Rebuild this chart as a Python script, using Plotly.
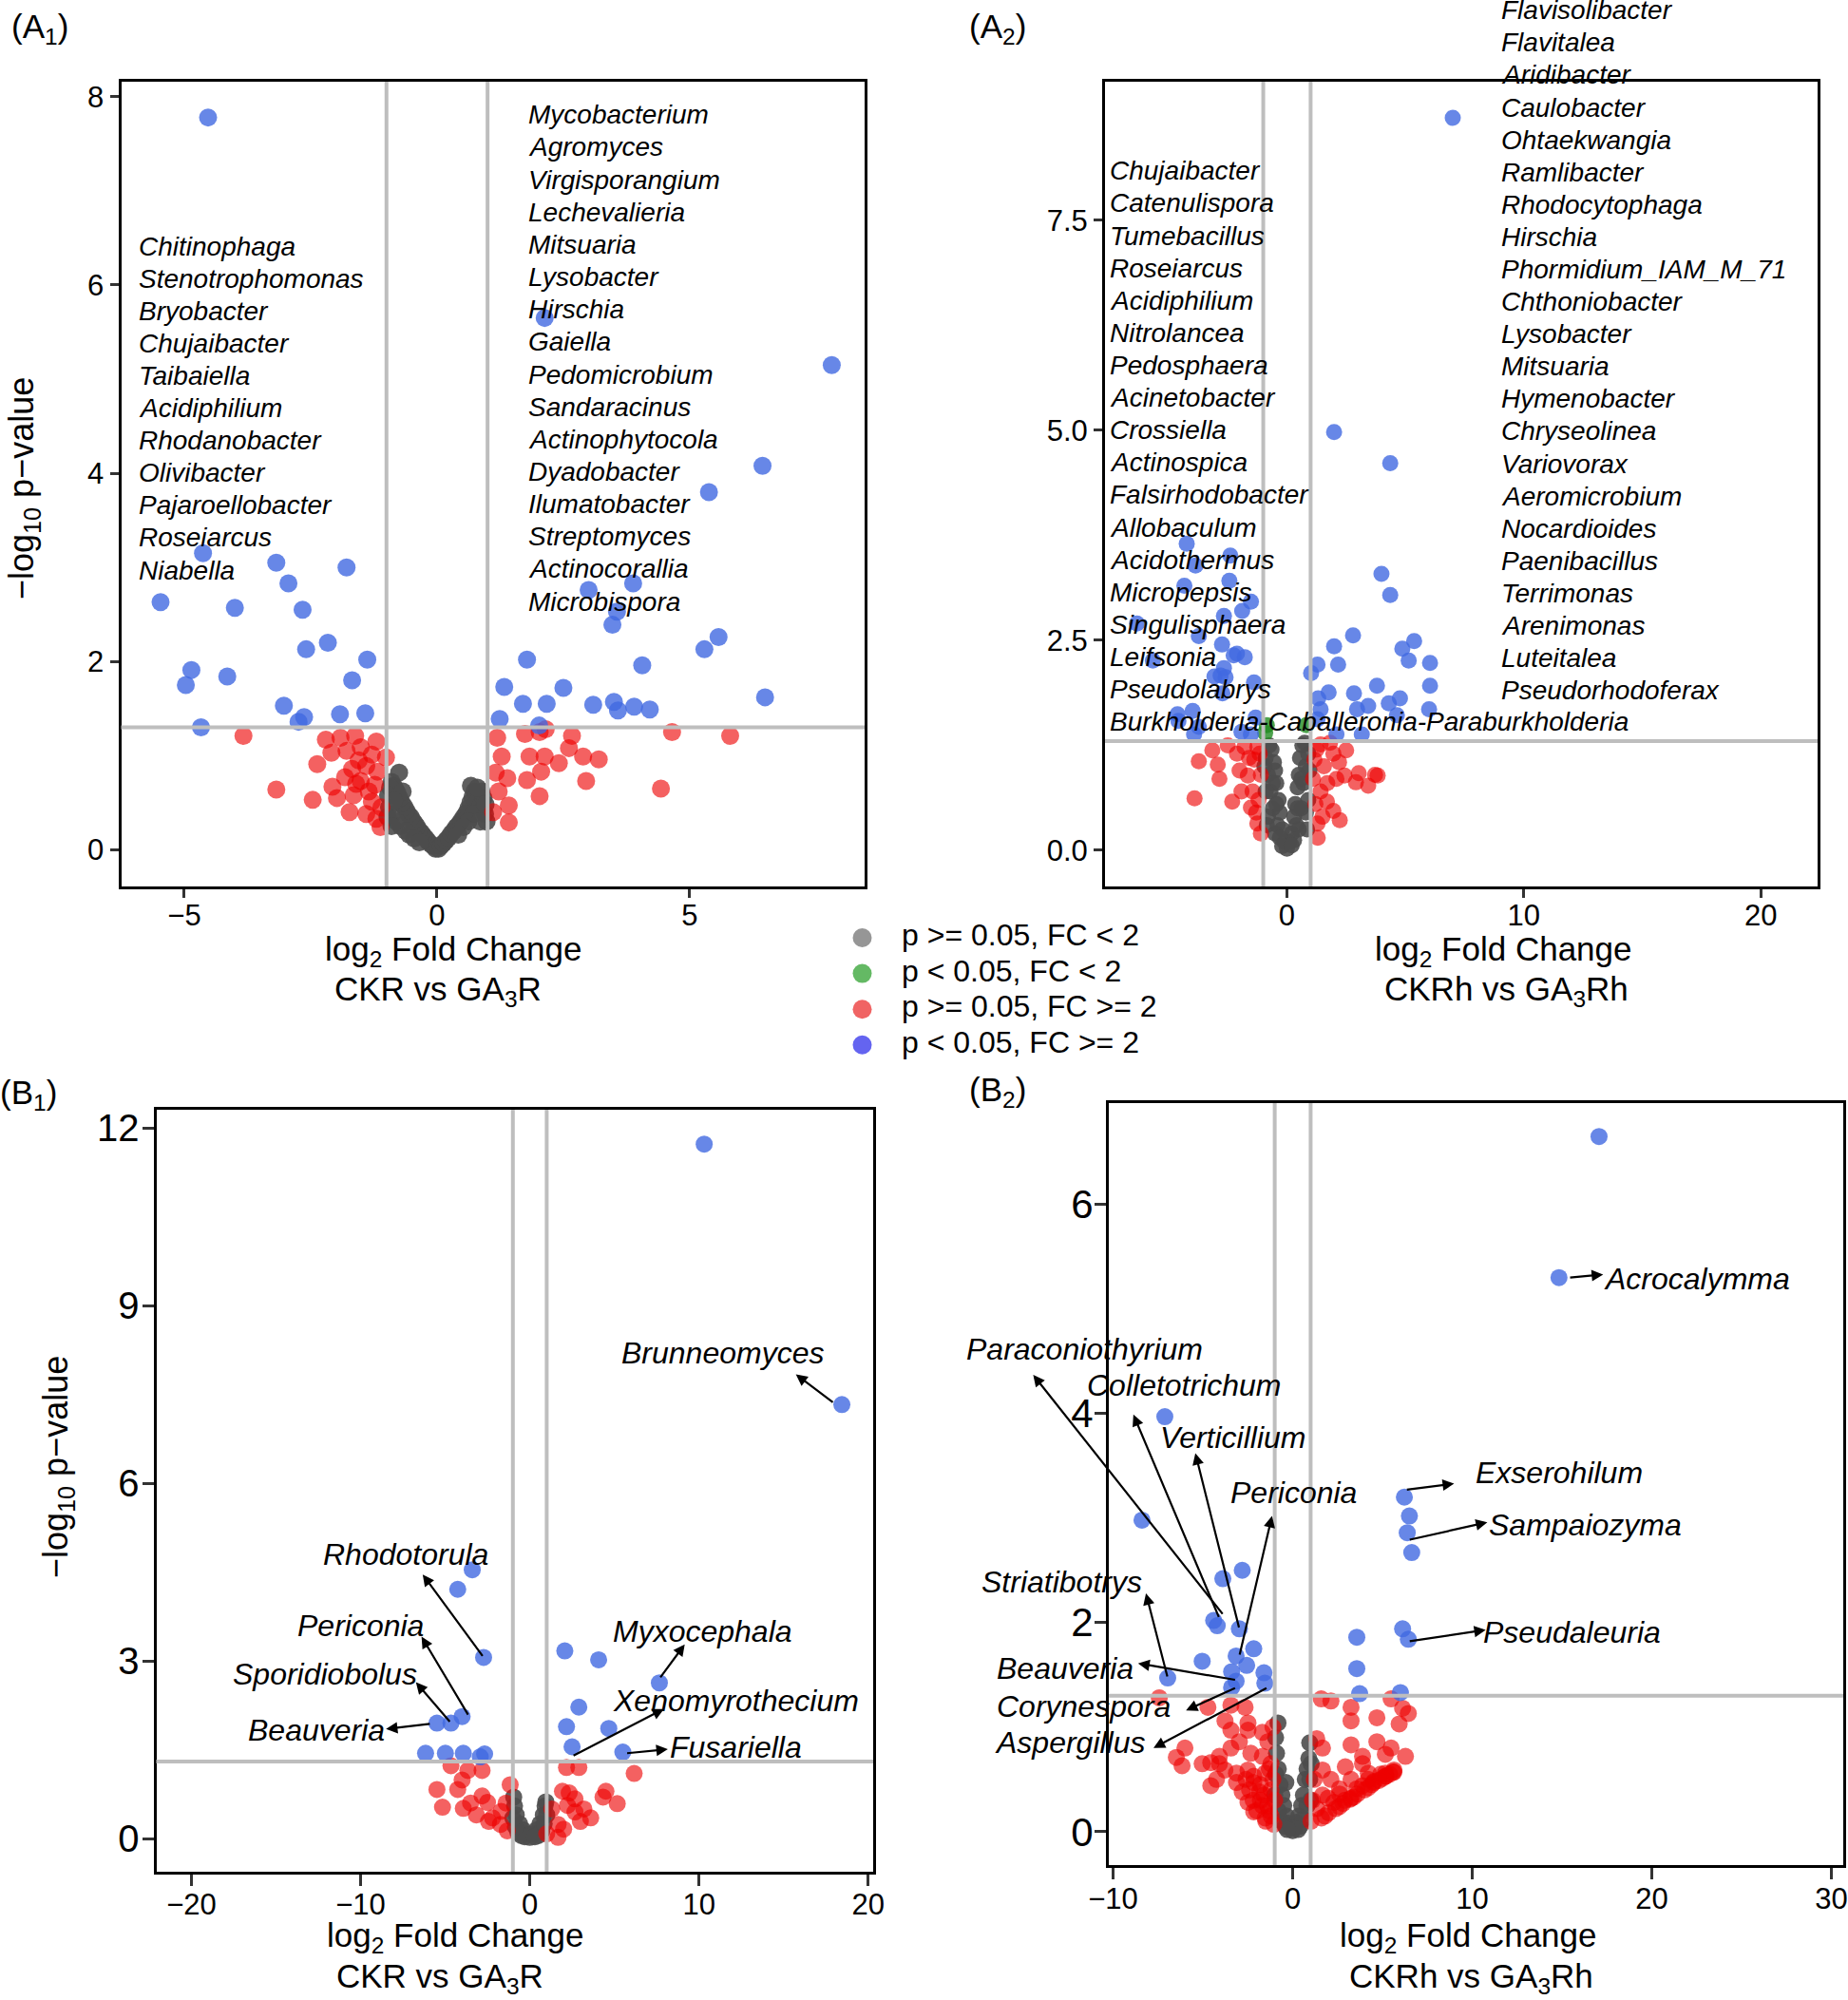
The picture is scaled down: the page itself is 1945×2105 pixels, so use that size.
import plotly.graph_objects as go

W, H = 1945, 2105
FONT = "Liberation Sans, Arial, Helvetica, sans-serif"

# ------------------------------------------------------------------ data
CATEGORIES = ["p >= 0.05, FC < 2", "p < 0.05, FC < 2", "p >= 0.05, FC >= 2", "p < 0.05, FC >= 2"]
LEGEND_COLORS = ["#969696", "#64B964", "#F06464", "#6464F0"]
POINT_COLORS = ["#4D4D4D", "#228B22", "#EE0000", "#4169E1"]
POINT_ALPHA = [0.9, 0.8, 0.62, 0.8]

# Panel A1  (CKR vs GA3R, bacteria)
a1_grey = [(-0.03,0.01),(-0.08,0.04),(-0.12,0.06),(-0.18,0.09),(-0.22,0.12),(-0.27,0.15),(-0.31,0.18),
           (-0.36,0.21),(-0.4,0.25),(-0.44,0.28),(-0.48,0.31),(-0.52,0.35),(-0.57,0.38),(-0.61,0.42),
           (-0.65,0.46),(-0.7,0.5),(-0.74,0.55),(-0.78,0.6),(-0.82,0.64),(-0.86,0.68),(-0.9,0.72),
           (-0.75,0.82),(-0.93,0.66),(-0.97,0.58),(-0.95,0.45),(-0.88,0.38),(-0.8,0.3),(-0.72,0.25),
           (-0.62,0.2),(-0.55,0.16),(-0.45,0.12),(-0.35,0.08),(-0.98,0.35),(-0.9,0.25),(-0.68,0.62),
           (-0.85,0.52),(0.03,0.01),(0.08,0.04),(0.13,0.07),(0.18,0.1),(0.23,0.13),(0.28,0.17),
           (0.33,0.2),(0.38,0.24),(0.43,0.27),(0.48,0.31),(0.53,0.35),(0.58,0.39),(0.62,0.44),
           (0.66,0.5),(0.7,0.56),(0.74,0.62),(0.67,0.68),(0.78,0.58),(0.82,0.52),(0.86,0.47),
           (0.9,0.42),(0.95,0.38),(0.92,0.55),(0.88,0.62),(0.8,0.66),(0.72,0.38),(0.62,0.3),
           (0.52,0.24),(0.42,0.16),(0.98,0.3),(0.85,0.3),(0.96,0.48)]
a1_red = [(-2.20,1.17),(-1.91,1.19),(-1.62,1.21),(-1.20,1.15),(-2.09,1.03),(-1.79,1.05),(-1.51,1.09),
          (-1.29,1.01),(-1.01,0.98),(-2.37,0.91),(-1.68,0.86),(-1.40,0.89),(-1.18,0.83),(-2.07,0.67),
          (-1.82,0.77),(-1.51,0.73),(-1.23,0.69),(-3.18,0.64),(-2.46,0.53),(-1.98,0.55),(-1.65,0.58),
          (-1.29,0.51),(-1.73,0.40),(-1.40,0.38),(-1.20,0.33),(-1.12,0.24),(-3.83,1.21),(-1.55,0.95),
          (-1.35,0.62),(-1.10,0.45),(-1.60,0.70),
          (1.19,1.19),(1.74,1.23),(2.67,1.21),(2.03,1.25),(2.61,1.08),(2.89,0.99),(3.20,0.96),
          (1.28,0.99),(1.83,0.99),(2.13,0.99),(2.41,0.92),(1.16,0.82),(1.39,0.76),(1.78,0.74),
          (2.06,0.83),(2.95,0.73),(4.43,0.65),(2.03,0.57),(1.22,0.62),(1.42,0.47),(1.42,0.29),
          (1.11,0.40),(4.65,1.25),(5.80,1.21),(2.15,1.28)]
a1_blue = [(-4.53,7.78),(2.13,5.65),(7.81,5.15),(6.44,4.08),(5.38,3.80),(3.88,2.83),(3.0,2.76),
           (3.56,2.53),(3.47,2.39),(-4.63,3.15),(-3.18,3.05),(-1.79,3.0),(-2.94,2.83),(-5.47,2.63),
           (-4.0,2.57),(-2.66,2.55),(-2.16,2.2),(-2.59,2.13),(-1.38,2.02),(-4.86,1.91),(-4.97,1.75),
           (-4.15,1.84),(-1.68,1.80),(-3.03,1.53),(-2.63,1.41),(-2.74,1.36),(-1.92,1.44),(-1.42,1.45),
           (-4.67,1.30),(1.78,2.02),(4.06,1.96),(5.29,2.13),(5.57,2.26),(6.49,1.62),(1.33,1.73),
           (2.5,1.72),(1.70,1.55),(2.17,1.55),(3.09,1.54),(3.50,1.57),(3.58,1.48),(3.90,1.52),
           (4.21,1.49),(1.24,1.39),(2.02,1.32)]
a1_left_names = ["Chitinophaga", "Stenotrophomonas", "Bryobacter", "Chujaibacter", "Taibaiella",
                 "Acidiphilium", "Rhodanobacter", "Olivibacter", "Pajaroellobacter", "Roseiarcus", "Niabella"]
a1_right_names = ["Mycobacterium", "Agromyces", "Virgisporangium", "Lechevalieria", "Mitsuaria",
                  "Lysobacter", "Hirschia", "Gaiella", "Pedomicrobium", "Sandaracinus", "Actinophytocola",
                  "Dyadobacter", "Ilumatobacter", "Streptomyces", "Actinocorallia", "Microbispora"]

# Panel A2  (CKRh vs GA3Rh, bacteria)
a2_grey = [(0,0.02),(-0.1,0.1),(0.1,0.1),(-0.2,0.25),(0.2,0.2),(-0.3,0.45),(0.3,0.4),(-0.35,0.6),
           (0.35,0.55),(-0.45,0.8),(0.45,0.75),(-0.5,0.95),(0.5,0.9),(-0.55,1.05),(0.55,1.1),
           (-0.65,1.2),(0.65,1.25),(-0.4,0.3),(0.4,0.3),(-0.6,0.5),(0.6,0.5),(-0.7,0.7),(0.7,0.8),
           (-0.8,0.9),(0.8,1.0),(-0.9,1.1),(0.9,1.15),(-0.75,1.25),(0.75,1.28),(-0.5,0.2),(0.5,0.25),
           (-0.8,0.4),(0.8,0.45),(-0.3,0.15),(0.3,0.12),(-0.2,0.05),(0.2,0.06),(-0.6,0.8),(0.6,0.85),
           (-0.9,0.7),(0.9,0.6),(-0.95,1.0),(0.95,0.95),(-0.45,0.55),(0.45,0.5),(-0.85,0.3),(0.85,0.25)]
a2_green = [(-0.85,1.49),(0.82,1.49),(-0.92,1.40)]
a2_red = [(-3.15,1.19),(-3.72,1.06),(-2.92,1.02),(-2.85,0.85),(-3.90,0.62),(-2.11,1.15),(-2.31,0.58),
          (-1.65,0.89),(-1.92,0.70),(-1.25,0.32),(-1.52,0.51),(-1.38,1.08),(-1.79,1.23),(-1.45,0.70),
          (-1.25,1.23),(-1.1,0.9),(-1.2,0.6),(-1.3,0.45),(-1.1,0.2),(-1.6,1.1),(-2.0,0.95),
          (-1.15,1.15),(-2.5,1.25),
          (1.42,1.26),(1.96,1.15),(2.50,1.19),(3.03,0.92),(3.83,0.89),(3.43,0.77),(2.09,0.85),
          (2.23,0.36),(1.69,0.58),(1.42,0.70),(1.96,0.47),(1.16,1.08),(1.56,1.0),(1.82,1.28),
          (1.29,0.32),(2.43,0.89),(2.91,0.81),(3.72,0.90),(1.1,0.85),(1.2,0.55),(1.3,0.15),(1.5,0.4),
          (1.7,0.8),(1.25,1.2),(2.2,1.05)]
a2_blue = [(7.0,8.72),(1.99,4.98),(4.36,4.61),(3.99,3.29),(4.36,3.04),(2.79,2.56),(1.99,2.43),(2.16,2.21),
           (1.29,2.21),(1.02,2.11),(5.37,2.49),(4.87,2.40),(5.14,2.26),(6.04,2.23),(6.04,1.96),(3.80,1.96),
           (2.83,1.87),(1.76,1.88),(1.32,1.81),(1.42,1.68),(3.43,1.72),(2.96,1.68),(4.30,1.75),(4.77,1.81),
           (4.64,1.61),(6.0,1.68),(3.16,1.38),(2.09,1.38),(1.29,1.56),
           (-4.23,3.65),(-2.39,3.51),(-3.86,3.39),(-4.33,3.15),(-2.43,3.21),(-1.52,2.96),(-1.89,2.85),
           (-2.66,2.79),(-6.33,2.70),(-3.72,2.55),(-2.74,2.45),(-2.11,2.34),(-1.78,2.30),(-2.25,2.32),
           (-5.66,2.26),(-2.66,2.17),(-3.06,2.07),(-2.59,2.06),(-1.39,2.0),(-2.72,1.87),(-4.62,1.62),
           (-1.32,1.58),(-3.92,1.38),(-3.72,1.47),(-1.92,1.41),(-1.52,1.38),(-3.98,1.66),(-2.8,2.08),
           (-4.58,1.54)]
a2_left_names = ["Chujaibacter", "Catenulispora", "Tumebacillus", "Roseiarcus", "Acidiphilium", "Nitrolancea",
                 "Pedosphaera", "Acinetobacter", "Crossiella", "Actinospica", "Falsirhodobacter", "Allobaculum",
                 "Acidothermus", "Micropepsis", "Singulisphaera", "Leifsonia", "Pseudolabrys",
                 "Burkholderia-Caballeronia-Paraburkholderia"]
a2_right_names = ["Flavisolibacter", "Flavitalea", "Aridibacter", "Caulobacter", "Ohtaekwangia", "Ramlibacter",
                  "Rhodocytophaga", "Hirschia", "Phormidium_IAM_M_71", "Chthoniobacter", "Lysobacter",
                  "Mitsuaria", "Hymenobacter", "Chryseolinea", "Variovorax", "Aeromicrobium", "Nocardioides",
                  "Paenibacillus", "Terrimonas", "Arenimonas", "Luteitalea", "Pseudorhodoferax"]

# Panel B1  (CKR vs GA3R, fungi)
b1_grey = [(0,0.02),(-0.2,0.08),(0.2,0.08),(-0.4,0.15),(0.4,0.15),(-0.6,0.25),(0.6,0.25),(-0.8,0.4),
           (0.8,0.4),(-0.9,0.55),(0.9,0.55),(-0.95,0.7),(0.95,0.62),(-0.5,0.05),(0.5,0.05),(-0.7,0.1),
           (0.7,0.12),(-0.3,0.03),(0.3,0.03),(-0.85,0.2),(0.85,0.25),(-1.0,0.35),(1.0,0.4)]
b1_red = [(-4.66,1.23),(-3.66,1.15),(-2.82,1.15),(2.17,1.20),(2.90,1.20),(6.17,1.10),(-4.0,0.99),(-1.16,0.91),
          (-5.49,0.83),(-4.26,0.83),(-2.82,0.72),(-2.5,0.61),(-5.16,0.53),(-3.93,0.51),(-3.16,0.40),
          (-2.44,0.29),(-1.73,0.24),(-1.33,0.13),(-1.69,0.46),(1.93,0.80),(2.67,0.67),(2.23,0.56),
          (4.5,0.80),(4.33,0.70),(5.17,0.59),(3.60,0.35),(2.99,0.29),(1.67,0.24),(2.0,0.16),(1.0,0.08),
          (1.67,0.02),(2.67,0.45),(2.33,0.77),(-2.2,0.35),(-3.5,0.6),(-1.4,0.6),(1.3,0.5),(3.2,0.5)]
b1_blue = [(10.31,11.73),(18.45,7.33),(-3.40,4.54),(-4.26,4.21),(-2.73,3.06),(2.07,3.17),(4.07,3.02),
           (7.66,2.63),(2.90,2.22),(-4.0,2.06),(-4.66,1.95),(-5.49,1.95),(2.17,1.89),(4.67,1.86),
           (2.50,1.55),(5.50,1.46),(-6.16,1.44),(-4.99,1.44),(-3.93,1.44),(-2.67,1.43),(-2.93,1.38)]
b1_labels = ["Brunneomyces", "Rhodotorula", "Periconia", "Sporidiobolus", "Beauveria",
             "Myxocephala", "Xenomyrothecium", "Fusariella"]

# Panel B2  (CKRh vs GA3Rh, fungi)
b2_grey = [(0,0.01),(-0.1,0.04),(0.1,0.04),(-0.2,0.08),(0.2,0.09),(-0.35,0.15),(0.35,0.15),(-0.5,0.25),
           (0.5,0.25),(-0.6,0.35),(0.6,0.35),(-0.7,0.45),(0.7,0.5),(-0.8,0.6),(0.8,0.6),(-0.9,0.75),
           (0.9,0.7),(-0.95,0.9),(0.95,0.85),(-0.82,1.04),(0.4,0.05),(-0.4,0.05),(-0.6,0.1),(0.6,0.12),
           (-0.8,0.2),(0.8,0.25),(-1.0,0.35),(1.0,0.3),(0.3,0.02),(-0.3,0.02),(0.95,0.5),(-0.95,0.55),
           (1.03,0.65),(-0.38,0.47)]
b2_red = [(-4.72,1.19),(-3.44,1.21),(-2.65,1.19),(-3.77,1.06),(-2.49,1.04),(-3.44,0.97),(-2.49,0.97),
          (-1.69,0.95),(-1.38,0.86),(-6.0,0.80),(-6.48,0.71),(-6.16,0.63),(-5.04,0.65),(-4.08,0.72),
          (-2.97,0.86),(-3.44,0.80),(-2.33,0.75),(-1.69,0.72),(-1.21,0.65),(-3.77,0.59),(-2.49,0.59),
          (-1.53,0.56),(-4.24,0.50),(-3.13,0.47),(-2.17,0.47),(-4.56,0.44),(-2.81,0.38),(-1.85,0.38),
          (-2.49,0.28),(-1.69,0.25),(-2.17,0.19),(-1.53,0.13),(-1.05,0.07),(-3.13,0.56),(-2.17,0.53),
          (-4.08,0.65),(-4.56,0.66),(-7.43,1.28),(-1.2,0.4),(-1.3,0.2),(-1.8,0.3),(-1.1,1.0),
          (-1.2,0.15),(-1.4,0.25),(-1.6,0.35),(-1.8,0.45),(-2.0,0.2),(-2.2,0.3),(-1.0,0.3),(-1.1,0.5),
          (-1.3,0.6),(-2.4,0.4),(-2.6,0.5),(-1.5,0.1),
          (1.59,1.27),(2.13,1.25),(3.25,1.19),(4.69,1.09),(5.48,1.27),(6.12,1.18),(6.44,1.13),(3.25,1.06),
          (1.34,0.89),(1.66,0.80),(3.25,0.83),(3.89,0.72),(4.69,0.86),(5.48,0.80),(6.28,0.72),(5.16,0.74),
          (2.93,0.62),(3.89,0.65),(1.66,0.59),(2.13,0.50),(3.25,0.50),(4.21,0.56),(5.16,0.56),(5.64,0.59),
          (2.61,0.41),(3.57,0.41),(1.66,0.35),(2.30,0.28),(1.34,0.22),(1.02,0.10),(3.25,0.32),(4.52,0.47),
          (5.16,0.53),(1.97,0.32),(2.61,0.36),(3.89,0.44),(4.52,0.48),(5.64,0.57),(5.93,1.03),(1.2,0.5),
          (1.1,0.3),(2.9,0.3),(4.2,0.5),(4.9,0.55),
          (1.6,0.13),(2.0,0.18),(2.4,0.22),(2.8,0.27),(3.2,0.31),(3.6,0.36),(4.0,0.40),(4.4,0.45),
          (4.8,0.49),(5.2,0.53),(5.6,0.57),(1.8,0.15),(2.6,0.24),(3.4,0.33),(4.2,0.42),(5.0,0.51),(5.4,0.55)]
b2_blue = [(17.06,6.65),(14.83,5.30),(-7.12,3.97),(-8.39,2.98),(6.22,3.20),(6.5,3.02),(6.38,2.86),(6.63,2.67),
           (-2.81,2.50),(-3.89,2.42),(-4.40,2.02),(-4.2,1.97),(-2.97,1.94),(6.12,1.94),(6.44,1.84),(3.57,1.86),
           (3.57,1.56),(-2.17,1.75),(-3.15,1.68),(-5.04,1.63),(-2.56,1.59),(-3.4,1.53),(-1.6,1.52),
           (-6.96,1.47),(-3.15,1.44),(-1.55,1.42),(-3.4,1.38),(3.73,1.32),(6.0,1.33)]
b2_labels = ["Acrocalymma", "Paraconiothyrium", "Colletotrichum", "Verticillium", "Periconia", "Exserohilum",
             "Sampaiozyma", "Pseudaleuria", "Striatibotrys", "Beauveria", "Corynespora", "Aspergillus"]

# tick labels
A1_XTICKS, A1_YTICKS = [-5, 0, 5], [0, 2, 4, 6, 8]
A2_XTICKS, A2_YTICKS = [0, 10, 20], [0, 2.5, 5.0, 7.5]
A2_YTICKTEXT = ["0.0", "2.5", "5.0", "7.5"]
B1_XTICKS, B1_YTICKS = [-20, -10, 0, 10, 20], [0, 3, 6, 9, 12]
B2_XTICKS, B2_YTICKS = [-10, 0, 10, 20, 30], [0, 2, 4, 6]

FC_CUT, P_CUT_LOG = 1.0, 1.30103

# ------------------------------------------------------------------ layout helpers
def px(x):
    return x / W

def py(y):
    return 1 - y / H

# label placements (panel data units): text centre, arrow head, arrow tail
B1_LABEL_POS = [(11.41, 8.20, 15.73, 7.84, 18.0, 7.35), (-7.36, 4.80, -6.33, 4.46, -2.73, 3.06),
                (-10.03, 3.60, -6.40, 3.41, -3.60, 2.07), (-12.1, 2.78, -6.73, 2.64, -4.66, 1.95),
                (-12.6, 1.83, -8.50, 1.85, -5.83, 1.94), (10.2, 3.50, 9.16, 3.28, 7.66, 2.70),
                (12.16, 2.33, 7.93, 2.19, 2.50, 1.39), (12.2, 1.55, 8.16, 1.51, 5.67, 1.44)]
B2_LABEL_POS = [(22.49, 5.29, 17.29, 5.33, 15.37, 5.30), (-11.58, 4.62, -14.45, 4.37, -3.84, 2.07),
                (-6.03, 4.27, -8.87, 3.99, -4.08, 2.04), (-3.29, 3.77, -5.42, 3.62, -2.97, 1.94),
                (0.06, 3.24, -1.15, 3.02, -2.97, 1.68), (14.83, 3.43, 8.99, 3.33, 6.28, 3.27),
                (16.32, 2.93, 10.84, 2.96, 6.44, 2.79), (15.53, 1.91, 10.75, 1.93, 6.44, 1.82),
                (-12.85, 2.39, -8.17, 2.28, -6.96, 1.47), (-12.7, 1.56, -8.61, 1.61, -3.13, 1.45),
                (-11.63, 1.20, -5.94, 1.16, -3.13, 1.38), (-12.38, 0.85, -7.75, 0.80, -1.38, 1.38)]

panels = [
    dict(ax="", data=[a1_grey, None, a1_red, a1_blue], size=19,
         dom_x=(127.5, 910), dom_y=(86, 933), xr=[-6.25, 8.46], yr=[-0.39, 8.16],
         xt=A1_XTICKS, yt=A1_YTICKS, ytt=[str(v) for v in A1_YTICKS], yfont=31, xfont=31,
         tlen=9, xstand=-8, ystand=0),
    dict(ax="2", data=[a2_grey, a2_green, a2_red, a2_blue], size=17,
         dom_x=(1163, 1913), dom_y=(86, 933), xr=[-7.68, 22.4], yr=[-0.43, 9.15],
         xt=A2_XTICKS, yt=A2_YTICKS, ytt=A2_YTICKTEXT, yfont=31, xfont=31, tlen=9, xstand=-8, ystand=0),
    dict(ax="3", data=[b1_grey, None, b1_red, b1_blue], size=18,
         dom_x=(164.5, 919), dom_y=(1168, 1970), xr=[-22.08, 20.3], yr=[-0.56, 12.31],
         xt=B1_XTICKS, yt=B1_YTICKS, ytt=[str(v) for v in B1_YTICKS], yfont=40, xfont=31,
         tlen=12, xstand=-7, ystand=-5),
    dict(ax="4", data=[b2_grey, None, b2_red, b2_blue], size=18,
         dom_x=(1167, 1940), dom_y=(1161, 1963), xr=[-10.24, 30.66], yr=[-0.32, 6.97],
         xt=B2_XTICKS, yt=B2_YTICKS, ytt=[str(v) for v in B2_YTICKS], yfont=42, xfont=31,
         tlen=12, xstand=-6, ystand=-7),
]


def to_px(p, X, Y):
    x0, x1 = p["dom_x"]
    y0, y1 = p["dom_y"]
    fx = x0 + (X - p["xr"][0]) / (p["xr"][1] - p["xr"][0]) * (x1 - x0)
    fy = y1 - (Y - p["yr"][0]) / (p["yr"][1] - p["yr"][0]) * (y1 - y0)
    return fx, fy


fig = go.Figure()
layout = dict(width=W, height=H, margin=dict(l=0, r=0, t=0, b=0, pad=0), autosize=False,
              paper_bgcolor="white", plot_bgcolor="white", showlegend=False,
              font=dict(family=FONT, color="black"))
shapes, annotations = [], []

for p in panels:
    a = p["ax"]
    xref, yref = "x" + a, "y" + a
    for ci, pts in enumerate(p["data"]):
        if not pts:
            continue
        fig.add_trace(go.Scatter(
            x=[q[0] for q in pts], y=[q[1] for q in pts], mode="markers", name=CATEGORIES[ci],
            xaxis=xref, yaxis=yref, showlegend=False, hoverinfo="skip",
            marker=dict(size=p["size"], color=POINT_COLORS[ci], opacity=POINT_ALPHA[ci],
                        line=dict(width=0))))
    common = dict(showline=True, linecolor="black", linewidth=3, mirror=True, showgrid=False,
                  zeroline=False, ticks="outside", ticklen=p["tlen"], tickwidth=3, tickcolor="#333333",
                  tickmode="array", automargin=False)
    layout["xaxis" + a] = dict(common, domain=[px(p["dom_x"][0]), px(p["dom_x"][1])], range=p["xr"],
                               anchor=yref, tickvals=p["xt"], ticklabelstandoff=p["xstand"],
                               tickfont=dict(size=p["xfont"], family=FONT, color="black"))
    layout["yaxis" + a] = dict(common, domain=[py(p["dom_y"][1]), py(p["dom_y"][0])], range=p["yr"],
                               anchor=xref, tickvals=p["yt"], ticktext=p["ytt"],
                               ticklabelstandoff=p["ystand"],
                               tickfont=dict(size=p["yfont"], family=FONT, color="black"))
    for xv in (-FC_CUT, FC_CUT):
        shapes.append(dict(type="line", xref=xref, yref=yref + " domain", x0=xv, x1=xv, y0=0, y1=1,
                           line=dict(color="#BEBEBE", width=4), layer="above"))
    shapes.append(dict(type="line", xref=xref + " domain", yref=yref, x0=0, x1=1, y0=P_CUT_LOG,
                       y1=P_CUT_LOG, line=dict(color="#BEBEBE", width=4), layer="above"))

# ---- shared legend, drawn on an invisible pixel-scaled axis
LEG_X0, LEG_X1, LEG_Y0, LEG_Y1 = 880, 1230, 960, 1120
LEG_MARK_X, LEG_TEXT_X, LEG_ROW0, LEG_STEP = 907.5, 949, 987, 37.6
rows_y = [LEG_ROW0 + i * LEG_STEP for i in range(len(CATEGORIES))]
fig.add_trace(go.Scatter(x=[LEG_MARK_X] * len(CATEGORIES), y=rows_y, mode="markers",
                         xaxis="x5", yaxis="y5", showlegend=False, hoverinfo="skip",
                         marker=dict(size=20, color=LEGEND_COLORS, line=dict(width=0))))
fig.add_trace(go.Scatter(x=[LEG_TEXT_X] * len(CATEGORIES), y=rows_y, mode="text", text=CATEGORIES,
                         textposition="middle right", xaxis="x5", yaxis="y5", showlegend=False,
                         hoverinfo="skip", cliponaxis=False,
                         textfont=dict(size=32, family=FONT, color="black")))
layout["xaxis5"] = dict(domain=[px(LEG_X0), px(LEG_X1)], range=[LEG_X0, LEG_X1], visible=False,
                        anchor="y5", automargin=False)
layout["yaxis5"] = dict(domain=[py(LEG_Y1), py(LEG_Y0)], range=[LEG_Y1, LEG_Y0], visible=False,
                        anchor="x5", automargin=False)

LAB_FONT = dict(family=FONT, size=28, color="black")


def name_column(names, x_px, y0_px, dy_px):
    for i, nm in enumerate(names):
        annotations.append(dict(x=px(x_px), y=py(y0_px + i * dy_px), xref="paper", yref="paper",
                                text="<i>%s</i>" % nm, showarrow=False, xanchor="left",
                                yanchor="middle", font=LAB_FONT))


name_column(a1_left_names, 144, 259, 34.1)
name_column(a1_right_names, 554, 120.8, 34.15)
name_column(a2_left_names, 1166, 179.9, 34.1)
name_column(a2_right_names, 1578, 10.7, 34.1)

BLAB_FONT = dict(family=FONT, size=32, color="black")


def arrow_labels(p, names, pos):
    for nm, (tx, ty, hx, hy, sx, sy) in zip(names, pos):
        cx, cy = to_px(p, tx, ty)
        annotations.append(dict(x=px(cx), y=py(cy), xref="paper", yref="paper", text="<i>%s</i>" % nm,
                                showarrow=False, xanchor="center", yanchor="middle", font=BLAB_FONT))
        hxp, hyp = to_px(p, hx, hy)
        sxp, syp = to_px(p, sx, sy)
        annotations.append(dict(x=px(hxp), y=py(hyp), xref="paper", yref="paper",
                                ax=sxp - hxp, ay=syp - hyp, axref="pixel", ayref="pixel",
                                text="", showarrow=True, arrowhead=2, arrowsize=1.1, arrowwidth=2.2,
                                arrowcolor="black", standoff=0, startstandoff=0))


arrow_labels(panels[2], b1_labels, B1_LABEL_POS)
arrow_labels(panels[3], b2_labels, B2_LABEL_POS)

TITLE_FONT = dict(family=FONT, size=35, color="black")
for cx, cy, txt in [(477, 1001, "log<sub>2</sub> Fold Change"), (461, 1043, "CKR vs GA<sub>3</sub>R"),
                    (1582, 1001, "log<sub>2</sub> Fold Change"), (1585, 1043, "CKRh vs GA<sub>3</sub>Rh"),
                    (479, 2039, "log<sub>2</sub> Fold Change"), (463, 2082, "CKR vs GA<sub>3</sub>R"),
                    (1545, 2039, "log<sub>2</sub> Fold Change"), (1548, 2082, "CKRh vs GA<sub>3</sub>Rh")]:
    annotations.append(dict(x=px(cx), y=py(cy), xref="paper", yref="paper", text=txt, showarrow=False,
                            xanchor="center", yanchor="middle", font=TITLE_FONT))
for cx, cy in [(25, 514), (61, 1544)]:
    annotations.append(dict(x=px(cx), y=py(cy), xref="paper", yref="paper",
                            text="\u2212log<sub>10</sub> p\u2212value", textangle=-90, showarrow=False,
                            xanchor="center", yanchor="middle", font=dict(family=FONT, size=36, color="black")))
for lx, ly, txt in [(10, 30, "(A<sub>1</sub>)"), (1018, 30, "(A<sub>2</sub>)"),
                    (-2, 1152, "(B<sub>1</sub>)"), (1018, 1149, "(B<sub>2</sub>)")]:
    annotations.append(dict(x=px(lx), y=py(ly), xref="paper", yref="paper", text=txt, showarrow=False,
                            xanchor="left", yanchor="middle", font=dict(family=FONT, size=35, color="black")))

layout["shapes"] = shapes
layout["annotations"] = annotations
fig.update_layout(**layout)

fig.write_html("out.html", include_plotlyjs=True, config={"displayModeBar": False},
               post_script="document.body.style.margin='0';document.body.style.overflow='hidden';")
